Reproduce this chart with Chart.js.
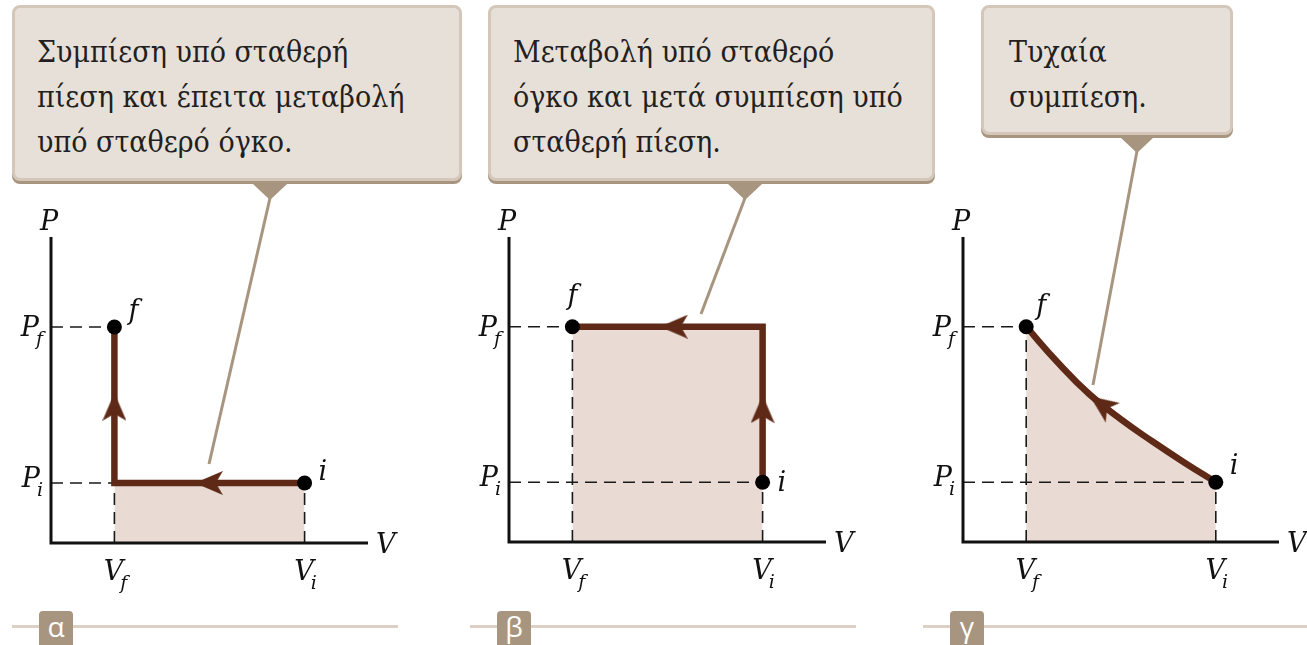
<!DOCTYPE html>
<html><head><meta charset="utf-8">
<script src="https://cdn.jsdelivr.net/npm/chart.js@4.4.1/dist/chart.umd.min.js"></script>
<style>
html,body{margin:0;padding:0;background:#fff;width:1307px;height:645px;overflow:hidden;position:relative;}
.box{position:absolute;box-sizing:border-box;background:#e7e0d9;border:3px solid #d4c7b9;border-radius:8px;box-shadow:0 3px 0 #a8957f;color:#231f20;font-family:'DejaVu Serif Condensed','DejaVu Serif',serif;font-size:30px;line-height:45px;padding:21px 0 0 22px;white-space:nowrap;}
.cv{position:absolute;}
.rule{position:absolute;height:3px;background:#ddd1c6;}
.tab{position:absolute;width:34px;height:40px;background:#a8957f;border-radius:4px;color:#fff;font-family:'Open Sans',sans-serif;font-size:28px;text-align:center;line-height:30px;}
#ov{position:absolute;left:0;top:0;z-index:5;pointer-events:none;}
</style></head><body>
<div id="root"></div>
<script>
// ---------------- data ----------------
const V_F = 1, V_I = 4, P_I = 1, P_F = 3.6;
const volumeTicks = [V_F, V_I];
const volumeTickLabels = [['V', 'f'], ['V', 'i']];
const pressureTicks = [P_I, P_F];
const pressureTickLabels = [['P', 'i'], ['P', 'f']];
const axisTitles = ['V', 'P'];
const stateLabels = ['i', 'f'];

// process paths (from i to f)
const pathA_V = [4, 1, 1];
const pathA_P = [1, 1, 3.6];
const pathB_V = [4, 4, 1];
const pathB_P = [1, 3.6, 3.6];
const pathC_V = [4, 3.5, 3, 2.5, 2, 1.5, 1];
const pathC_P = [1, 1.33, 1.68, 2.05, 2.47, 3.0, 3.6];

// arrow heads along the paths (centre position, heading in degrees, 0 = up)
const arrowsA_V = [2.49, 1];
const arrowsA_P = [1, 2.27];
const arrowsA_dir = [-90, 0];
const arrowsB_V = [4, 2.6];
const arrowsB_P = [2.22, 3.6];
const arrowsB_dir = [0, -90];
const arrowsC_V = [2.19];
const arrowsC_P = [2.3];
const arrowsC_dir = [-54];

const captionA = ['Συμπίεση υπό σταθερή', 'πίεση και έπειτα μεταβολή', 'υπό σταθερό όγκο.'];
const captionB = ['Μεταβολή υπό σταθερό', 'όγκο και μετά συμπίεση υπό', 'σταθερή πίεση.'];
const captionC = ['Τυχαία', 'συμπίεση.'];
const panelLetters = ['α', 'β', 'γ'];

// ---------------- layout / style ----------------
const BROWN = '#5e2a17';
const FILL = '#e9dad3';
const root = document.getElementById('root');

function addBox(lines, l, t, w, h, padL) {
  const d = document.createElement('div');
  d.className = 'box';
  Object.assign(d.style, {left: l + 'px', top: t + 'px', width: w + 'px', height: h + 'px'});
  if (padL) d.style.paddingLeft = padL + 'px';
  lines.forEach((s, k) => { if (k) d.appendChild(document.createElement('br')); d.appendChild(document.createTextNode(s)); });
  root.appendChild(d);
}
addBox(captionA, 12, 5, 450, 176);
addBox(captionB, 488, 5, 447, 176);
addBox(captionC, 981, 5, 252, 130, 25);

function addTab(letter, ruleL, ruleW, tabL) {
  const r = document.createElement('div'); r.className = 'rule';
  Object.assign(r.style, {left: ruleL + 'px', width: ruleW + 'px', top: '625px'});
  root.appendChild(r);
  const t = document.createElement('div'); t.className = 'tab'; t.textContent = letter;
  Object.assign(t.style, {left: tabL + 'px', top: '611px'});
  root.appendChild(t);
}
addTab(panelLetters[0], 12, 386, 39);
addTab(panelLetters[1], 470, 386, 497);
addTab(panelLetters[2], 923, 384, 950);

// pointer lines from boxes
const NS = 'http://www.w3.org/2000/svg';
const svg = document.createElementNS(NS, 'svg');
svg.setAttribute('id', 'ov'); svg.setAttribute('width', 1307); svg.setAttribute('height', 645);
function ptr(tx, ty, half, h, ex, ey) {
  const p = document.createElementNS(NS, 'polygon');
  p.setAttribute('points', `${tx - half},${ty - h} ${tx + half},${ty - h} ${tx},${ty}`);
  p.setAttribute('fill', '#a8957f'); svg.appendChild(p);
  const ln = document.createElementNS(NS, 'line');
  ln.setAttribute('x1', tx); ln.setAttribute('y1', ty - 2); ln.setAttribute('x2', ex); ln.setAttribute('y2', ey);
  ln.setAttribute('stroke', '#a8957f'); ln.setAttribute('stroke-width', 3); svg.appendChild(ln);
}
ptr(270, 200, 17, 16, 209, 464);
ptr(745, 200, 17, 16, 701, 314);
ptr(1137, 153, 17, 16, 1093, 385);
document.body.appendChild(svg);

// arrow head image used as a Chart.js point style
function makeArrowHead(color) {
  const c = document.createElement('canvas'); c.width = 24; c.height = 28;
  const g = c.getContext('2d'); g.fillStyle = color;
  g.beginPath(); g.moveTo(12, 0); g.lineTo(24, 28); g.lineTo(12, 21); g.lineTo(0, 28); g.closePath(); g.fill();
  return c;
}
const arrowImg = makeArrowHead(BROWN);

const MAIN_FONT = 'italic 27px "DejaVu Serif", serif';
const SUB_FONT = 'italic 19px "DejaVu Serif", serif';
function drawSubLabel(ctx, main, sub, x, y, align) {
  ctx.font = MAIN_FONT; const wm = ctx.measureText(main).width;
  ctx.font = SUB_FONT; const ws = ctx.measureText(sub).width;
  const total = wm + ws - 3;
  const x0 = align === 'right' ? x - total : align === 'center' ? x - total / 2 : x;
  ctx.textAlign = 'left'; ctx.textBaseline = 'alphabetic';
  ctx.font = MAIN_FONT; ctx.fillText(main, x0, y);
  ctx.font = SUB_FONT; ctx.fillText(sub, x0 + wm - 3, y + 9);
}

const pvPlugin = {
  id: 'pv',
  afterDatasetsDraw(chart, args, o) {
    const {ctx} = chart; const xs = chart.scales.x, ys = chart.scales.y;
    const X = v => xs.getPixelForValue(v), Y = v => ys.getPixelForValue(v);
    ctx.save();
    ctx.strokeStyle = '#111'; ctx.lineWidth = 3; ctx.lineJoin = 'miter'; ctx.lineCap = 'butt';
    ctx.beginPath(); ctx.moveTo(X(0), Y(ys.max)); ctx.lineTo(X(0), Y(0)); ctx.lineTo(X(xs.max), Y(0)); ctx.stroke();
    ctx.fillStyle = '#111';
    ctx.font = MAIN_FONT; ctx.textBaseline = 'alphabetic';
    ctx.textAlign = 'center'; ctx.fillText(axisTitles[1], X(0) - 2, Y(ys.max) - 7);
    ctx.textAlign = 'left'; ctx.fillText(axisTitles[0], X(xs.max) + 8, Y(0) + 10);
    pressureTicks.forEach((p, k) => drawSubLabel(ctx, pressureTickLabels[k][0], pressureTickLabels[k][1], X(0) - 8, Y(p) + o.pDy[k], 'right'));
    volumeTicks.forEach((v, k) => drawSubLabel(ctx, volumeTickLabels[k][0], volumeTickLabels[k][1], X(v) + 1, Y(0) + 37, 'center'));
    const pts = chart.data.datasets.find(d => d.label === 'states').data;
    pts.forEach((pt, k) => {
      const off = o.stateOff[k];
      ctx.font = MAIN_FONT; ctx.textAlign = off[2];
      ctx.fillText(stateLabels[k], X(pt.x) + off[0], Y(pt.y) + off[1]);
    });
    ctx.restore();
  }
};

function zip(a, b) { return a.map((v, k) => ({x: v, y: b[k]})); }

function guideSegments(full) {
  // dashed reference lines from the axes to the states
  return full ? [
    [[0, P_F], [V_F, P_F]], [[0, P_I], [V_I, P_I]], [[V_F, 0], [V_F, P_F]], [[V_I, 0], [V_I, P_I]]
  ] : [
    [[0, P_F], [V_F, P_F]], [[0, P_I], [V_F, P_I]], [[V_F, 0], [V_F, P_I]], [[V_I, 0], [V_I, P_I]]
  ];
}

function makePanel(cfg) {
  const cv = document.createElement('canvas');
  cv.className = 'cv'; cv.width = cfg.w; cv.height = 420;
  Object.assign(cv.style, {left: cfg.left + 'px', top: '190px', width: cfg.w + 'px', height: '420px'});
  root.appendChild(cv);
  const path = zip(cfg.pv, cfg.pp);
  const datasets = [];
  datasets.push({label: 'states', data: [path[0], path[path.length - 1]], showLine: false,
    pointRadius: 7.5, pointBackgroundColor: '#000', pointBorderWidth: 0, order: 0, clip: false});
  datasets.push({label: 'arrows', data: zip(cfg.av, cfg.ap), showLine: false, pointStyle: arrowImg,
    pointRadius: 10, pointRotation: cfg.ad, order: 1, clip: false});
  datasets.push({label: 'process', data: path, showLine: true, borderColor: BROWN, borderWidth: 6.5,
    borderJoinStyle: 'miter', borderCapStyle: 'butt', pointRadius: 0,
    tension: cfg.curve ? 0.45 : 0,
    fill: 'origin', backgroundColor: FILL, order: 2, clip: false});
  guideSegments(cfg.fullGuides).forEach(seg => datasets.push({label: 'guide',
    data: seg.map(p => ({x: p[0], y: p[1]})), showLine: true, borderColor: '#1a1a1a', borderWidth: 1.6,
    borderDash: [12, 7], pointRadius: 0, fill: false, order: 3, clip: false}));
  new Chart(cv, {
    type: 'scatter',
    data: {datasets},
    options: {
      responsive: false, animation: false, devicePixelRatio: 1, events: [],
      layout: {padding: cfg.pad},
      scales: {x: {type: 'linear', min: 0, max: 5, display: false}, y: {type: 'linear', min: 0, max: 5.1, display: false}},
      plugins: {legend: {display: false}, tooltip: {enabled: false}, filler: {drawTime: 'beforeDatasetsDraw'},
        pv: {pDy: cfg.pDy, stateOff: cfg.stateOff}}
    },
    plugins: [pvPlugin]
  });
}

makePanel({left: 0, w: 440, pad: {left: 51, right: 72, top: 47, bottom: 67},
  pv: pathA_V, pp: pathA_P, av: arrowsA_V, ap: arrowsA_P, ad: arrowsA_dir, fullGuides: false,
  pDy: [4, 9], stateOff: [[14, -3, 'left'], [14, -8, 'left']]});
makePanel({left: 460, w: 440, pad: {left: 49, right: 74, top: 47, bottom: 68},
  pv: pathB_V, pp: pathB_P, av: arrowsB_V, ap: arrowsB_P, ad: arrowsB_dir, fullGuides: true,
  pDy: [4, 9], stateOff: [[15, 9, 'left'], [0, -23, 'center']]});
makePanel({left: 910, w: 397, pad: {left: 53, right: 28, top: 47, bottom: 68},
  pv: pathC_V, pp: pathC_P, av: arrowsC_V, ap: arrowsC_P, ad: arrowsC_dir, fullGuides: true, curve: true,
  pDy: [4, 9], stateOff: [[14, -8, 'left'], [10, -13, 'left']]});
</script>
</body></html>
